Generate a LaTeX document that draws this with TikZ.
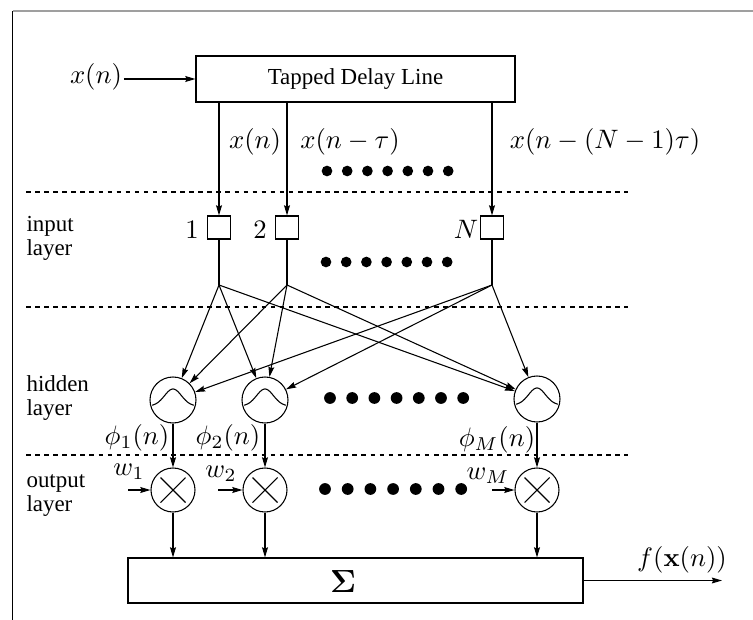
\documentclass[tikz,border=0pt]{standalone}
\usepackage[no-math]{fontspec}
\setmainfont{Liberation Serif}
\usetikzlibrary{arrows.meta}

\begin{document}
\begin{tikzpicture}[x=0.375pt,y=-0.375pt,
  line width=0.4pt,
  arr/.style={-{Stealth[length=3.8pt,width=2.2pt,inset=0.5pt]}},
  sepline/.style={dash pattern=on 1.7pt off 1.7pt},
  blk/.style={draw, rectangle, inner sep=0pt},
  inbox/.style={draw, rectangle, minimum size=23*0.375pt, inner sep=0pt},
  rbf/.style={draw, circle, minimum size=46*0.375pt, inner sep=0pt},
  mult/.style={draw, circle, minimum size=44*0.375pt, inner sep=0pt},
  lbl/.style={inner sep=0.5pt},
  layertxt/.style={align=left, anchor=west, inner sep=0pt, font=\fontsize{8.6}{9}\selectfont}
]
\useasboundingbox (0,0) rectangle (753,620);

% frame
\draw[gray!75, line width=0.6pt] (753,11) -- (12.5,11);
\draw (12.5,11) -- (12.5,620);

% tapped delay line
\node[blk, minimum width=319*0.375pt, minimum height=46*0.375pt,
      font=\fontsize{8.6}{10}\selectfont] (tdl) at (355.5,79) {Tapped Delay Line};
\node[lbl] (xin) at (96,77) {$x(n)$};
\draw[arr] (xin.east |- tdl.west) -- (tdl.west);

% tap labels
\node[lbl] (t1) at (255,142) {$x(n)$};
\node[lbl] (t2) at (350,142) {$x(n-\tau)$};
\node[lbl] (tN) at (605,142) {$x(n-(N-1)\tau)$};
\foreach \k in {0,...,6} \fill (327+20.2*\k,171) circle[radius=2pt];

% layer separators
\draw[sepline] (26,192) -- (628,192);
\draw[sepline] (26,307) -- (628,307);
\draw[sepline] (26,455) -- (628,455);

% layer names
\node[layertxt] (lin) at (26,238.5) {input\\layer};
\node[layertxt] (lhid) at (26,398.5) {hidden\\layer};
\node[layertxt] (lout) at (26,495.5) {output\\layer};

% input layer
\node[inbox] (in1) at (219,227.5) {};
\node[inbox] (in2) at (287,227.5) {};
\node[inbox] (inN) at (492,227.5) {};
\node[lbl] (i1) at (192,230) {$1$};
\node[lbl] (i2) at (260,230) {$2$};
\node[lbl] (iN) at (466,229) {$N$};
\draw[arr] (tdl.south -| in1) -- (in1.north);
\draw[arr] (tdl.south -| in2) -- (in2.north);
\draw[arr] (tdl.south -| inN) -- (inN.north);
\foreach \k in {0,...,6} \fill (326+20.2*\k,262) circle[radius=2pt];

\coordinate (b1) at (219,285);
\coordinate (b2) at (287,285);
\coordinate (bN) at (492,285);
\draw (in1.south) -- (b1);
\draw (in2.south) -- (b2);
\draw (inN.south) -- (bN);

% hidden layer
\node[rbf] (h1) at (173,400) {};
\node[rbf] (h2) at (265,400) {};
\node[rbf] (hM) at (537,399) {};
\foreach \n in {h1,h2,hM}
  \draw[shift={(\n.center)}] plot[domain=-21:21,samples=50,smooth]
    (\x,{6-17*exp(-(\x/12)*(\x/12))});
\foreach \b in {b1,b2,bN}
  \foreach \h in {h1,h2,hM}
    \draw[arr] (\b) -- (\h);
\foreach \k in {0,...,6} \fill (330+22.2*\k,398) circle[radius=2.2pt];

\node[lbl] (p1) at (137,438) {$\phi_1(n)$};
\node[lbl] (p2) at (228,438) {$\phi_2(n)$};
\node[lbl] (pM) at (497,440) {$\phi_M(n)$};

% output layer
\node[mult] (m1) at (173,490) {};
\node[mult] (m2) at (265,490) {};
\node[mult] (mM) at (537,490) {};
\foreach \n in {m1,m2,mM}
  \draw[shift={(\n.center)}] (-12.5,-12.5) -- (12.5,12.5) (-12.5,12.5) -- (12.5,-12.5);
\draw[arr] (h1.south) -- (m1.north);
\draw[arr] (h2.south) -- (m2.north);
\draw[arr] (hM.south) -- (mM.north);
\foreach \k in {0,...,6} \fill (325+22.7*\k,489) circle[radius=2.2pt];

\coordinate (w1s) at (128,490);
\coordinate (w2s) at (218,490);
\coordinate (wMs) at (492,490);
\draw[arr] (w1s) -- (m1.west);
\draw[arr] (w2s) -- (m2.west);
\draw[arr] (wMs) -- (mM.west);
\node[lbl] (w1) at (129,472) {$w_1$};
\node[lbl] (w2) at (221,474) {$w_2$};
\node[lbl] (wM) at (488,476) {$w_M$};

% summation
\node[blk, minimum width=455*0.375pt, minimum height=45*0.375pt] (sum) at (355.5,580.5) {};
\node[lbl] (sig) at (343,582) {\large$\mathbf{\Sigma}$};
\draw[arr] (m1.south) -- (m1.south |- sum.north);
\draw[arr] (m2.south) -- (m2.south |- sum.north);
\draw[arr] (mM.south) -- (mM.south |- sum.north);
\coordinate (out) at (722,580.5);
\draw[arr] (sum.east) -- (out);
\node[lbl] (fx) at (682,560) {$f(\mathbf{x}(n))$};
\end{tikzpicture}
\end{document}
